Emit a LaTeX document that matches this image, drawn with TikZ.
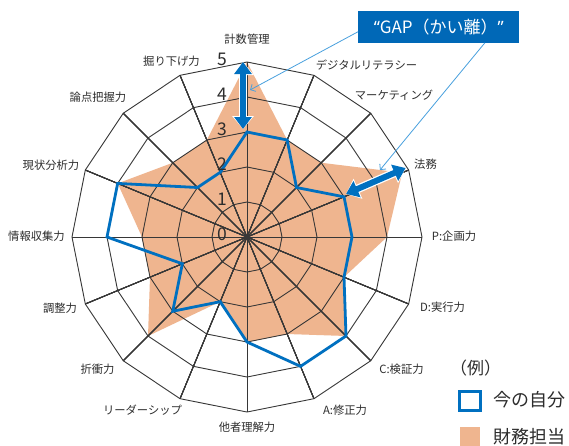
\documentclass[tikz,border=0pt]{standalone}
\usepackage{fontspec}
\setmainfont{Noto Sans CJK JP}
\newfontfamily\latinfont{Noto Sans}
\usepackage{tikz}
\usetikzlibrary{calc}
\usetikzlibrary{arrows.meta}
\definecolor{selfblue}{RGB}{0,112,192}
\definecolor{boxblue}{RGB}{0,104,183}
\definecolor{callout}{RGB}{72,160,222}
\definecolor{peach}{RGB}{239,181,143}
\definecolor{gridgray}{RGB}{55,55,55}
\definecolor{textgray}{RGB}{45,45,45}
\newcommand{\ringline}[1]{\draw[gridline] (90:#1) foreach \k in {1,...,15}{ -- ({90-22.5*\k}:#1)} -- cycle;}
\newcommand{\gaparrow}[2]{\draw[gap] (#1) -- (#2);}
\tikzset{
  gridline/.style={gridgray, line width=0.9pt},
  lab/.style={font=\fontsize{11.3}{12}\selectfont, text=textgray, inner sep=0pt},
  num/.style={font=\fontsize{17.5}{18}\selectfont, text=textgray, inner sep=0pt},
  gap/.style={selfblue, line width=6pt, {Triangle[length=12pt,width=17pt]}-{Triangle[length=12pt,width=17pt]},
    preaction={draw=white, line width=8.5pt, {Triangle[length=13pt,width=21pt]}-{Triangle[length=13pt,width=21pt]}}},
  pointer/.style={callout, line width=0.8pt, -{Straight Barb[length=4pt,width=8pt]}},
}
\begin{document}
\begin{tikzpicture}[x=1pt, y=1pt]
    \fill[white] (-247,-208) rectangle (322,237);
    \useasboundingbox (-247,-208) rectangle (322,237);
    % values, 16 axes from the top clockwise
    \foreach \v [count=\k from 0] in {5,3,3,4.8,4,3,4,3,3,2,4,3,3,4,3,3}
        \coordinate (f\k) at ({90-22.5*\k}:{35*\v});
    \foreach \v [count=\k from 0] in {3,3,2,3,3,3,4,4,3,2,3,2,4,4,2,2}
        \coordinate (s\k) at ({90-22.5*\k}:{35*\v});
    % target profile
    \fill[peach] (f0) foreach \k in {1,...,15}{ -- (f\k)} -- cycle;
    % web
    \foreach \r in {35,70,105,140,175}
        \ringline{\r}
    \foreach \k in {0,...,15}
        \draw[gridline] (0,0) -- ({90-22.5*\k}:175);
    \fill[gridgray] (0,0) circle (2pt);
    % own profile
    \draw[selfblue, line width=2.8pt] (s0) foreach \k in {1,...,15}{ -- (s\k)} -- cycle;
    % scale
    \foreach \i in {0,...,5}
        \node[num] (n\i) at (-25,{35*\i+3}) {\i};
    % gaps
    \coordinate (g0a) at (-4,108);
    \coordinate (g0b) at (-4,175);
    \coordinate (g3a) at (23.5:108);
    \coordinate (g3b) at (23.5:173);
    \gaparrow{g0a}{g0b}
    \gaparrow{g3a}{g3b}
    % axis labels
    \foreach \name/\x/\y [count=\k from 0] in {計数管理/0/198, デジタルリテラシー/119.5/172,
        マーケティング/147/142, 法務/178.5/73, P:企画力/207/1, D:実行力/195.5/-70,
        C:検証力/154.5/-132, A:修正力/98/-173, 他者理解力/0/-190, リーダーシップ/-104.5/-173,
        折衝力/-149.5/-132, 調整力/-187/-71, 情報収集力/-210.5/1, 現状分析力/-196/72,
        論点把握力/-149/140, 掘り下げ力/-75.5/176}
        \node[lab] (l\k) at (\x,\y) {\name};
    % callout
    \node[fill=boxblue, text=white, minimum width=161pt, minimum height=32pt, inner sep=0pt,
        font=\fontsize{17}{18}\selectfont] (gapbox) at (191.8,210.3) {{\latinfont “}GAP（かい離）{\latinfont ”}};
    \coordinate (tip0) at (3,147);
    \coordinate (tip3) at (133,67);
    \draw[pointer] ($(gapbox.west)+(0,-5)$) -- (tip0);
    \draw[pointer] ($(gapbox.south)+(46,0)$) -- (tip3);
    % legend
    \node[anchor=west, inner sep=0pt, text=textgray, font=\fontsize{17}{18}\selectfont] (key) at (203,-131) {（例）};
    \node[draw=selfblue, line width=3pt, minimum width=21pt, minimum height=19pt, inner sep=0pt] (key1) at (223,-164) {};
    \node[anchor=west, inner sep=0pt, text=textgray, font=\fontsize{18}{19}\selectfont] (key1t) at (246,-163) {今の自分};
    \node[fill=peach, minimum size=20pt, inner sep=0pt] (key2) at (223,-200) {};
    \node[anchor=west, inner sep=0pt, text=textgray, font=\fontsize{18}{19}\selectfont] (key2t) at (246,-200) {財務担当};
\end{tikzpicture}
\end{document}
